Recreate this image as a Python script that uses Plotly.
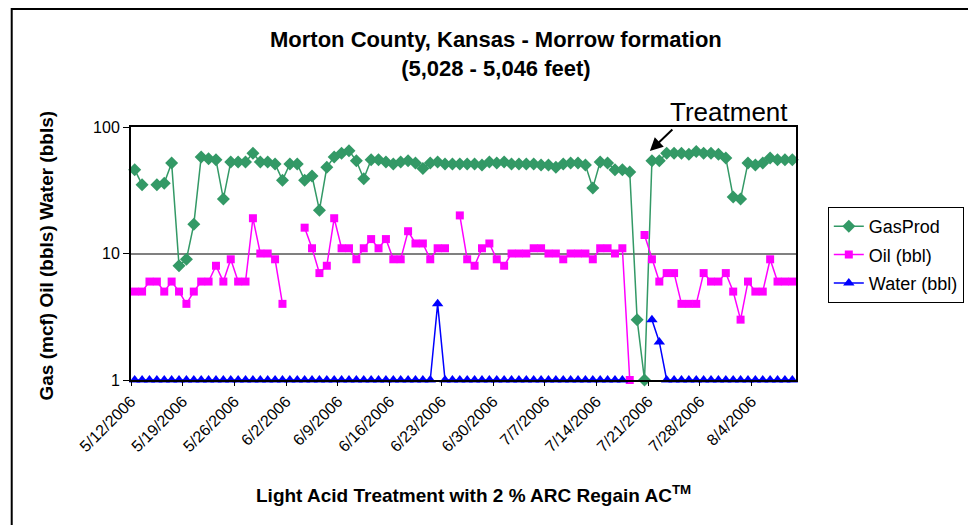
import datetime as dt
import plotly.graph_objects as go

start = dt.datetime(2006, 5, 12)
n_days = 90
dates = [start + dt.timedelta(days=i, hours=12) for i in range(n_days)]

gas = [46, 35, None, 35, 36, 52, 8, 9, 17, 58,
       56, 55, 27, 53, 53, 53, 62, 53, 53, 51,
       38, 51, 51, 38, 41, 22, 48, 58, 62, 65,
       54, 39, 55, 55, 53, 51, 53, 54, 52, 47,
       52, 53, 51, 51, 51, 51, 51, 50, 53, 52,
       53, 51, 51, 51, 51, 50, 50, 48, 51, 52,
       52, 50, 33, 53, 52, 46, 46, 44, 3, 1,
       54, 54, 62, 62, 62, 61, 64, 62, 62, 61,
       57, 28, 27, 52, 50, 52, 57, 55, 55, 55]

oil = [5, 5, 6, 6, 5, 6, 5, 4, 5, 6,
       6, 8, 6, 9, 6, 6, 19, 10, 10, 9,
       4, None, None, 16, 11, 7, 8, 19, 11, 11,
       9, 11, 13, 11, 13, 9, 9, 15, 12, 12,
       9, 11, 11, None, 20, 9, 8, 11, 12, 9,
       8, 10, 10, 10, 11, 11, 10, 10, 9, 10,
       10, 10, 9, 11, 11, 10, 11, 1, None, 14,
       9, 6, 7, 7, 4, 4, 4, 7, 6, 6,
       7, 5, 3, 6, 5, 5, 9, 6, 6, 6]

water = [1] * 41 + [4] + [1] * 25 + [None, None, None, 3, 2] + [1] * 18

tick_dates = [start + dt.timedelta(days=7 * k) for k in range(13)]
tick_text = [f"{d.month}/{d.day}/{d.year}" for d in tick_dates]

FONT = "Liberation Sans, Arial, sans-serif"

# page has an 8px body margin: figure coords = page coords - 8
OFF = 8
W, H = 976 - OFF, 525 - OFF
# plot area in page pixels
L, R, T, B = 131, 800, 127, 380

def px(xp):
    return (xp - L) / (R - L)

def py(yp):
    return (B - yp) / (B - T)

fig = go.Figure()
fig.add_trace(go.Scatter(x=dates, y=gas, name="GasProd", mode="lines+markers",
                         legendgroup="g", line=dict(color="#339966", width=1.5),
                         marker=dict(symbol="diamond", size=10, color="#339966"),
                         cliponaxis=False, connectgaps=False))
fig.add_trace(go.Scatter(x=dates, y=oil, name="Oil (bbl)", mode="lines+markers",
                         legendgroup="o", line=dict(color="#FF00FF", width=1.5),
                         marker=dict(symbol="square", size=8, color="#FF00FF"),
                         cliponaxis=False, connectgaps=False))
fig.add_trace(go.Scatter(x=dates, y=water, name="Water (bbl)", mode="lines+markers",
                         legendgroup="w", line=dict(color="#0000FF", width=1.5),
                         marker=dict(symbol="triangle-up", size=10, color="#0000FF"),
                         cliponaxis=False, connectgaps=False))

fig.update_layout(
    width=W, height=H,
    margin=dict(l=L - OFF, r=W - (R - OFF), t=T - OFF, b=H - (B - OFF), pad=0),
    paper_bgcolor="white", plot_bgcolor="white",
    font=dict(family=FONT, color="black", size=16),
    showlegend=True,
    legend=dict(x=px(832), y=py(207), xanchor="left", yanchor="top",
                bordercolor="black", borderwidth=1, bgcolor="white",
                font=dict(size=18, family=FONT), tracegroupgap=2),
    xaxis=dict(type="date",
               range=[start, start + dt.timedelta(days=n_days)],
               tickmode="array", tickvals=tick_dates, ticktext=tick_text,
               tickangle=-45, ticks="outside", ticklen=4, tickcolor="black",
               showline=True, linecolor="black", linewidth=1.5, mirror=True,
               showgrid=False, zeroline=False,
               tickfont=dict(size=16, family=FONT)),
    yaxis=dict(type="log", range=[0, 2],
               tickvals=[1, 10, 100], ticktext=["1", "10", "100"],
               ticks="outside", ticklen=6, tickcolor="black",
               showline=True, linecolor="black", linewidth=2, mirror=True,
               showgrid=True, gridcolor="#808080", gridwidth=1.5,
               zeroline=False, tickfont=dict(size=16, family=FONT)),
    shapes=[dict(type="rect", xref="paper", yref="paper",
                 x0=px(11), x1=px(1000), y0=py(9), y1=py(540),
                 line=dict(color="black", width=2), fillcolor="rgba(0,0,0,0)",
                 layer="below")],
    annotations=[
        dict(text="<b>Morton County, Kansas - Morrow formation</b><br><b>(5,028 - 5,046 feet)</b>",
             xref="paper", yref="paper", x=px(498), y=py(25), xanchor="center", yanchor="top",
             showarrow=False, font=dict(size=22, family=FONT)),
        dict(text="<b>Gas (mcf) Oil (bbls) Water (bbls)</b>",
             xref="paper", yref="paper", x=px(46), y=py(256), xanchor="center", yanchor="middle",
             textangle=-90, showarrow=False, font=dict(size=19, family=FONT)),
        dict(text="<b>Light Acid Treatment with 2 % ARC Regain AC<sup>TM</sup></b>",
             xref="paper", yref="paper", x=px(476), y=py(494), xanchor="center", yanchor="middle",
             showarrow=False, font=dict(size=19, family=FONT)),
        dict(text="Treatment", xref="paper", yref="paper", x=px(733), y=py(112),
             xanchor="center", yanchor="middle", showarrow=False,
             font=dict(size=26, family=FONT)),
        dict(text="", xref="paper", yref="paper", x=px(653), y=py(151),
             ax=24, ay=-23, showarrow=True, arrowhead=2, arrowsize=1.3,
             arrowwidth=2, arrowcolor="black"),
    ],
)

fig.write_html("out.html")
